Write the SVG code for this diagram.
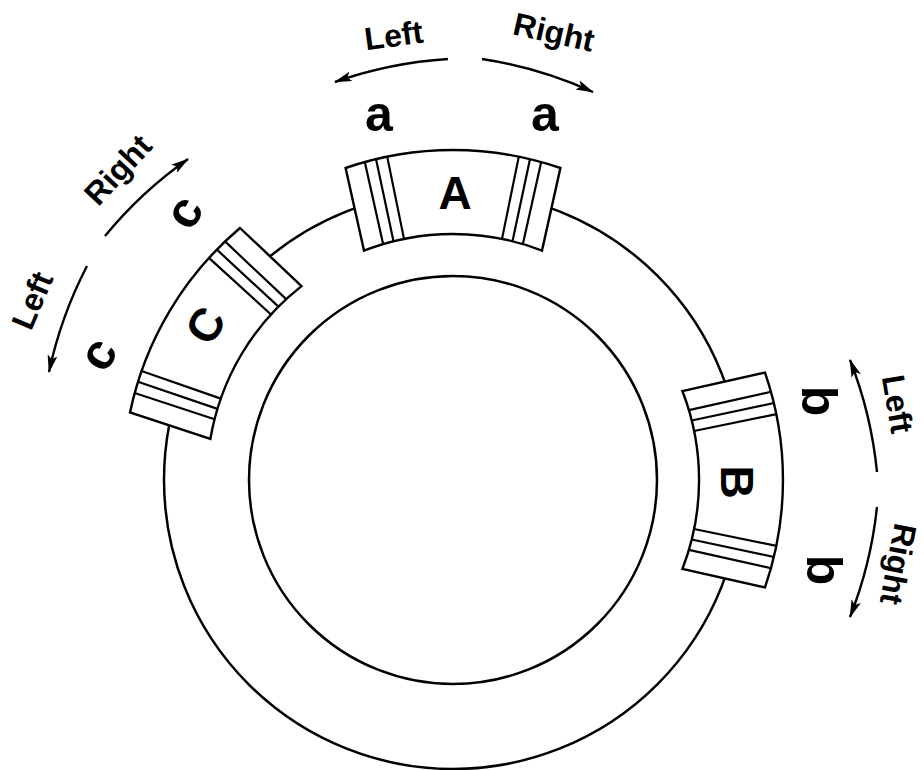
<svg xmlns="http://www.w3.org/2000/svg" xmlns:xlink="http://www.w3.org/1999/xlink" width="924" height="770" viewBox="0 0 924 770">
<style>
.ring { fill: none; stroke: #000; stroke-width: 2.5; }
.blk { fill: #fff; stroke: #000; stroke-width: 2.4; stroke-linejoin: miter; }
.stripe { fill: none; stroke: #000; stroke-width: 2.2; }
.arr { fill: none; stroke: #000; stroke-width: 2.4; marker-end: url(#ah); }
text { font-family: "Liberation Sans", Arial, sans-serif; font-weight: bold; fill: #000; text-anchor: middle; }
.big { font-size: 46px; }
.small { font-size: 50px; }
.dir { font-size: 32px; }
</style>
<defs>
  <marker id="ah" viewBox="0 0 18 10" refX="17" refY="5" markerWidth="18" markerHeight="10" orient="auto" markerUnits="userSpaceOnUse">
    <path d="M0,0 L18,5 L0,10 L4,5 Z" fill="#000"/>
  </marker>
  <g id="blockShape">
    <path class="blk" d="M 345.6 168.0 A 330 330 0 0 1 560.4 168.0 L 542.0 250.6 A 246 246 0 0 0 364.0 250.6 Z"/>
    <path class="stripe" d="M 387.2 156.6 L 404.0 238.9 M 376.0 159.1 L 393.5 241.3 M 364.8 162.0 L 383.1 244.1 M 518.8 156.6 L 502.0 238.9 M 530.0 159.1 L 512.5 241.3 M 541.2 162.0 L 522.9 244.1"/>
  </g>
</defs>
<rect width="924" height="770" fill="#fff"/>
<g id="ring">
  <circle class="ring" cx="453" cy="480" r="289"/>
  <circle class="ring" cx="453" cy="480" r="204"/>
</g>
<g id="block-A">
  <use xlink:href="#blockShape" href="#blockShape"/>
  <text class="big" x="455" y="208.5">A</text>
</g>
<g id="block-B">
  <use xlink:href="#blockShape" href="#blockShape" transform="rotate(90 453 480)"/>
  <text class="big" transform="translate(737 482) rotate(90)" x="0" y="16.5">B</text>
</g>
<g id="block-C">
  <use xlink:href="#blockShape" href="#blockShape" transform="rotate(-59.2 453 480)"/>
  <text class="big" transform="translate(205 325) rotate(-59)" x="0" y="16.5">C</text>
</g>
<g id="connectors">
  <path class="arr" d="M 448 59 A 420 420 0 0 0 335 82"/>
  <path class="arr" d="M 482 59 A 420 420 0 0 1 593 92"/>
  <path class="arr" d="M 877 472 A 420 420 0 0 0 850 360"/>
  <path class="arr" d="M 877 507 A 420 420 0 0 1 850 617"/>
  <path class="arr" d="M 105 236 A 420 420 0 0 1 188 159"/>
  <path class="arr" d="M 87 266 A 420 420 0 0 0 49 372"/>
</g>
<g id="labels">
  <text class="dir" x="453" y="42.5" transform="rotate(-7.6 453 480)">Left</text>
  <text class="dir" x="453" y="32" transform="rotate(12.7 453 480)">Right</text>
  <text class="dir" x="453" y="40" transform="rotate(80.3 453 480)">Left</text>
  <text class="dir" x="453" y="38" transform="rotate(100.7 453 480)">Right</text>
  <text class="dir" x="453" y="34.4" transform="rotate(-47.2 453 480)">Right</text>
  <text class="dir" x="453" y="33.6" transform="rotate(-66.9 453 480)">Left</text>
  <text class="small" transform="translate(379 118)" x="0" y="13">a</text>
  <text class="small" transform="translate(545 118)" x="0" y="13">a</text>
  <text class="small" transform="translate(820 401) rotate(90)" x="0" y="18">b</text>
  <text class="small" transform="translate(825 570) rotate(90)" x="0" y="18">b</text>
  <text class="small" transform="translate(187 214) rotate(-59)" x="0" y="13">c</text>
  <text class="small" transform="translate(101 356) rotate(-59)" x="0" y="13">c</text>
</g>
</svg>
